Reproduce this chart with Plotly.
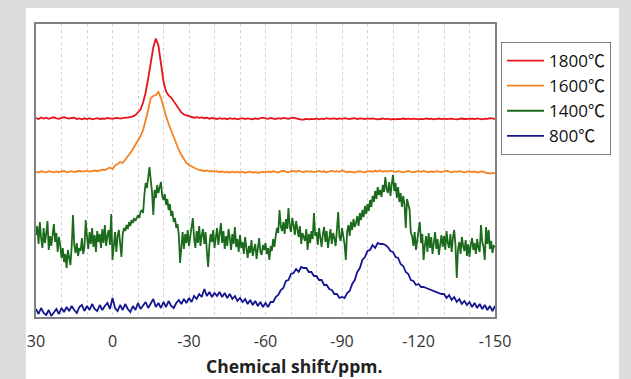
import numpy as np
import plotly.graph_objects as go

# Chemical shift axis (ppm), high to low
PPM_START = 30.0
PPM_END = -150.0

# Legend labels
labels = ["1800℃", "1600℃", "1400℃", "800℃"]

# 1800 ℃ spectrum, 1 ppm step, intensity above its own baseline
red_1800 = [
    0.5, -0.5, 1.0, 0.0, 0.8, -0.3, 0.6, 1.2, 0.2, -0.4,
    0.7, 1.4, 0.3, -0.2, 0.5, 0.9, -0.6, 0.1, -0.8, 0.2,
    -0.5, 0.3, -0.9, -0.2, 0.4, -0.6, 0.0, -0.3, 0.5, 0.2,
    -0.4, 0.3, 0.6, -0.1, 0.5, 0.9, 0.8, 1.4, 2.2, 3.5,
    6, 9, 16, 26, 40, 56, 71, 80, 73, 55,
    37, 27, 23, 21, 17, 13, 9, 6, 4, 3,
    2.2, 1.5, 0.8, 1.4, 0.6, 1.1, 0.3, 0.9, -0.2, 0.5,
    0.2, -0.5, 0.4, -0.3, 0.1, -0.7, 0.3, -0.4, 0.0, -0.8,
    -0.2, 0.4, -0.6, 0.1, -0.3, -0.9, 0.2, -0.5, 0.3, 0.8,
    0.2, -0.4, 0.5, 0.0, -0.6, 0.3, -0.2, 0.6, 0.1, -0.3,
    0.4, 0.9, 0.2, -0.5, -1.2, -1.0, -0.4, -0.9, -0.3, -0.6,
    0.0, -0.8, -0.2, -0.6, 0.3, -0.4, -0.1, 0.2, -0.5, 0.1,
    -0.3, 0.4, -0.2, -0.7, 0.0, 0.3, -0.5, 0.2, -0.1, -0.6,
    0.1, -0.4, 0.2, -0.3, -0.8, -0.5, 0.0, -0.7, -0.2, -1.0,
    -0.4, -0.9, -0.3, -0.6, 0.0, -0.5, -0.2, -0.7, -0.1, -0.4,
    -0.8, -0.3, -0.6, 0.1, -0.5, -0.2, -0.9, -0.4, 0.0, -0.6,
    -0.2, -0.7, -0.3, -0.1, -0.6, -0.9, -0.4, 0.0, -0.5, -0.3,
    -0.7, -0.2, -0.5, 0.2, -0.3, -0.8, -0.1, -0.4, 0.3, 0.0,
    -0.3,
]

# 1600 ℃ spectrum, 1 ppm step
orange_1600 = [
    0.3, -0.6, 0.8, 0.1, -0.4, 0.9, 0.2, -0.3, 0.6, -0.2,
    0.5, 1.0, -0.3, 0.4, 0.8, -0.1, 0.6, 1.2, 0.3, 0.7,
    1.1, 0.4, 0.9, 1.5, 0.8, 1.6, 2.4, 2.0, 3.2, 4.5,
    3.0, 6.5, 8.0, 10.0, 9.0, 12, 15, 19, 23, 27,
    31, 36, 42, 51, 62, 74, 76, 77, 80, 74,
    64, 56, 48, 41, 34, 28, 22, 17, 12.5, 9,
    7, 5.5, 4, 3, 2.2, 1.6, 1.0, 1.5, 0.6, 1.0,
    0.3, 0.8, -0.2, 0.5, -0.4, 0.2, -0.6, 0.4, -0.3, 0.1,
    -0.5, 0.3, -0.8, -0.2, 0.4, -0.6, 0.0, -0.9, -0.3, 0.2,
    -0.4, 0.5, -0.2, 0.8, 0.1, -0.5, 0.6, 1.2, 0.3, -0.3,
    0.7, 1.0, 0.2, 1.4, 0.5, -0.2, 0.9, 0.3, 0.6, -0.1,
    0.4, 1.1, 0.2, 0.7, -0.3, 0.5, 1.3, 0.4, 0.8, 0.2,
    1.5, 0.6, -0.2, 0.4, 0.0, -0.5, 0.3, 0.8, 0.1, -0.4,
    0.5, 0.9, 0.2, 1.2, 0.4, 1.6, 0.3, 0.9, 0.5, 1.4,
    0.6, -0.1, 0.8, 0.2, -0.3, 0.5, 1.0, 0.1, -0.4, 0.3,
    0.9, 0.2, 1.1, 0.4, -0.2, 0.6, 0.0, 0.8, 0.3, -0.1,
    0.5, 1.2, 0.4, -0.3, 0.6, 0.1, 0.9, 0.2, -0.4, 0.3,
    0.7, 0.0, 0.5, -0.5, 0.2, 0.6, -0.3, -1.0, -1.5, -0.8,
    -1.2,
]

# 1400 ℃ spectrum, 0.5 ppm step (noisy)
green_1400 = [
    5, 14, -4, 18, 2, -8, 12, -3, 6, 19, -10, 4, -6, 9, 16, -2, 7, -12, 3, -5,
    -18, -8, -22, -14, -28, -10, -19, -25, -6, 25, -5, -13, -3, -16, -8, -11, 2, -14, -7, 20,
    3, -9, 8, -4, 12, -7, 5, -12, 9, -2, 6, -8, 11, -3, 15, -6, 4, 10, -5, 26,
    -20, -2, 8, -12, 4, 10, -6, -17, 6, 12, 9, 15, 11, 18, 14, 20, 17, 22, 19, 23,
    25, 22, 28, 30, 27, 45, 57, 52, 64, 73, 60, 48, 25, 50, 42, 55, 47, 52, 58, 44,
    40, 46, 35, 41, 30, 36, 24, 29, 18, 22, 12, 16, 5, -23, -4, 8, -9, 6, -3, 10,
    -6, 4, 12, 22, 2, -8, 9, -3, 14, -6, 5, 11, -4, 8, -11, -27, -5, 6, -2, 10,
    -8, 3, 12, -5, 7, 17, -3, 9, -9, 4, -6, 11, 2, -10, 6, -4, 13, -7, 1, -12,
    5, -8, -2, -14, 3, -11, -18, -6, -13, 0, -16, -9, -4, -19, -7, 2, -12, -15, -5, -10,
    -3, -14, -8, -20, -6, -11, 1, -7, 4, 12, 7, 30, 14, 9, 18, 6, 21, 11, 32, 13,
    8, 22, 15, 5, 19, 10, 3, 14, -4, 7, 2, -1, 11, -10, 6, -3, 9, 1, 27, 4,
    8, -5, 12, 3, -7, 6, 13, -2, 9, -8, 4, 11, -4, 7, 2, -6, 10, 28, 3, -1,
    12, 5, -4, -20, 8, 15, 4, 18, 10, 21, 13, 17, 24, 14, 27, 20, 30, 23, 34, 26,
    36, 29, 40, 33, 44, 38, 49, 41, 53, 45, 50, 43, 55, 48, 63, 51, 47, 58, 44, 56,
    65, 49, 57, 42, 53, 38, 47, 33, 44, 36, 12, 41, 34, 30, 7, 4, -6, 8, -10, 2,
    9, 18, -3, 6, -20, -5, 4, -12, 7, -8, 3, -14, -2, 8, -9, 1, -15, -4, 5, -7,
    4, -10, 9, -3, -8, 6, -12, 2, 10, -5, -38, -9, -2, -14, 3, -6, -11, 0, -16, -4,
    -17, -5, 2, -10, -3, -14, 1, -8, -12, 15, -2, -7, -20, 13, -4, 10, -9, -1, -13, -6,
    -7,
]

# 800 ℃ spectrum, 1 ppm step
blue_800 = [
    3, -2, 4, -1, -3, 2, -4, 0, 3, -2,
    4, 0, 5, 1, 6, 2, -1, 5, 7, 1,
    6, 2, 8, 3, 1, 7, 2, 6, 9, 3,
    14, 4, 1, 7, 2, 8, 3, 0, 6, 2,
    9, 3, 7, 10, 4, 8, 13, 5, 9, 4,
    10, 5, 11, 6, 4, 9, 12, 8, 13, 9,
    14, 10, 16, 13, 18, 15, 23, 16, 20, 15,
    19, 16, 20, 15, 19, 14, 18, 13, 16, 11,
    14, 10, 13, 8, 12, 7, 11, 6, 10, 5,
    9, 5, 10, 10, 15, 17, 22, 24, 31, 32,
    38, 39, 43, 40, 45, 44, 44, 40, 40, 36,
    36, 32, 32, 27, 27, 23, 22, 18, 18, 14,
    15, 14, 19, 21, 28, 32, 40, 44, 52, 55,
    61, 62, 67, 64, 69, 68, 68, 67, 65, 61,
    60, 55, 54, 48, 46, 40, 38, 32, 31, 27,
    28, 25, 25, 24, 23, 22, 21, 20, 19, 18,
    18, 14, 17, 12, 15, 10, 13, 8, 11, 7,
    10, 5, 9, 4, 8, 3, 7, 2, 6, 1,
    6,
]

# vertical stacking offsets for each spectrum
offsets = [198.5, 145.0, 77.0, 5.0]
colors = ["#e8141c", "#f5821f", "#1c6b1c", "#151590"]
widths = [1.8, 1.8, 1.8, 1.8]
spectra = [red_1800, orange_1600, green_1400, blue_800]

x_ticks = [30, 0, -30, -60, -90, -120, -150]

fig = go.Figure()
for name, vals, off, col, w in zip(labels, spectra, offsets, colors, widths):
    vals = np.asarray(vals, dtype=float)
    ppm = np.linspace(PPM_START, PPM_END, len(vals))
    fig.add_trace(go.Scatter(
        x=ppm, y=vals + off, mode="lines", name=name,
        line=dict(color=col, width=w),
    ))

W, H = 631, 379
ml, mr, mt, mb = 36, 136, 24, 62
pw, ph = W - ml - mr, H - mt - mb

def px_x(x):
    return (x - ml) / pw

def px_y(y):
    return (H - mb - y) / ph

# white chart panel on grey page
fig.add_shape(type="rect", xref="paper", yref="paper",
              x0=px_x(26), x1=px_x(619), y0=px_y(379), y1=px_y(8),
              fillcolor="white", line=dict(width=0), layer="below")

fig.add_annotation(text="<b>Chemical shift/ppm.</b>", xref="paper", yref="paper",
                   x=px_x(294), y=px_y(366), xanchor="center", yanchor="middle",
                   showarrow=False,
                   font=dict(family="Open Sans", size=17.5, color="#222222"))

fig.update_layout(
    width=W, height=H,
    margin=dict(l=ml, r=mr, t=mt, b=mb),
    paper_bgcolor="#dddddd",
    plot_bgcolor="white",
    showlegend=True,
    legend=dict(
        x=px_x(501), y=px_y(42), xanchor="left", yanchor="top",
        bgcolor="white", bordercolor="#7f7f7f", borderwidth=1,
        font=dict(family="Open Sans, Noto Sans CJK SC", size=17, color="#111111"),
        itemwidth=37,
    ),
    xaxis=dict(
        range=[PPM_START, PPM_END], tickvals=x_ticks,
        ticktext=[str(t) for t in x_ticks],
        showgrid=True, gridcolor="#d4d4d4", griddash="dot", gridwidth=1,
        minor=dict(dtick=10, showgrid=True, gridcolor="#d4d4d4", griddash="dot"),
        zeroline=False, ticks="", ticklabelstandoff=9,
        showline=True, mirror=True, linecolor="#808080", linewidth=1.5,
        tickfont=dict(family="Open Sans", size=16, color="#333333"),
    ),
    yaxis=dict(
        range=[0, ph], showticklabels=False, showgrid=False, zeroline=False,
        ticks="", showline=True, mirror=True, linecolor="#808080", linewidth=1.5,
    ),
)

fig.write_html("out.html")
